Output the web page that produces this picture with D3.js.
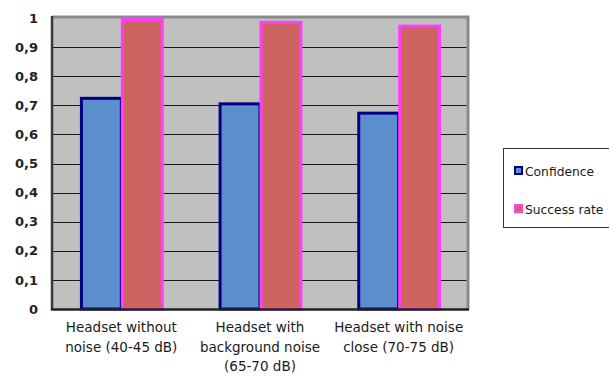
<!DOCTYPE html>
<html><head><meta charset="utf-8">
<script src="https://cdn.jsdelivr.net/npm/d3@7"></script>
<style>body{margin:0;background:#fff;}svg{display:block;font-family:"DejaVu Sans",Verdana,sans-serif;}</style>
</head><body>
<svg id="c" width="609" height="376"></svg>
<script>
const categories = [["Headset without","noise (40-45 dB)"],["Headset with","background noise","(65-70 dB)"],["Headset with noise","close (70-75 dB)"]];
const series = ["Confidence","Success rate"];
const confidence = [0.724, 0.705, 0.673];
const successRate = [0.995, 0.985, 0.972];
const yTicks = [0,0.1,0.2,0.3,0.4,0.5,0.6,0.7,0.8,0.9,1];
const yTickLabels = ["0","0,1","0,2","0,3","0,4","0,5","0,6","0,7","0,8","0,9","1"];

const fills = {"Confidence":"#5b8fcd","Success rate":"#cd6462"};
const strokes = {"Confidence":"#000080","Success rate":"#ff3cff"};

const svg = d3.select("#c");
const L=52, R=468, T=18, B=309;
const catIdx = categories.map((d,i)=>i);
const x0 = d3.scaleBand().domain(catIdx).range([L,R]).paddingInner(0.41).paddingOuter(0.205);
const x1 = d3.scaleBand().domain(series).range([0,x0.bandwidth()]);
const y = d3.scaleLinear().domain([0,1]).range([B,T]);

// plot area
svg.append("rect").attr("x",L).attr("y",T-1).attr("width",R-L).attr("height",B-T+1).attr("fill","#c0c0c0");
// gridlines
svg.append("g").selectAll("line").data(yTicks.filter(t=>t>0 && t<1)).join("line")
  .attr("x1",L).attr("x2",R).attr("y1",d=>Math.round(y(d))+0.5).attr("y2",d=>Math.round(y(d))+0.5)
  .attr("stroke","#1a1a1a").attr("stroke-width",1);
// top/right border
svg.append("path").attr("d",`M${L},${T-1}H${R}V${B}`).attr("fill","none").attr("stroke","#8a8a8a").attr("stroke-width",3);

// bars
const rows = catIdx.map(i=>({i, vals:[{s:"Confidence",v:confidence[i]},{s:"Success rate",v:successRate[i]}]}));
const g = svg.append("g");
series.forEach(s=>{
  g.selectAll("rect."+s.replace(" ","")).data(rows).join("rect")
   .attr("x",d=>x0(d.i)+x1(s)+1)
   .attr("width",x1.bandwidth()-1)
   .attr("y",d=>y(d.vals.find(e=>e.s===s).v))
   .attr("height",d=>B-y(d.vals.find(e=>e.s===s).v))
   .attr("fill",fills[s]).attr("stroke",strokes[s]).attr("stroke-width",3);
});

// axes lines
svg.append("line").attr("x1",L).attr("x2",L).attr("y1",T-2).attr("y2",B+1).attr("stroke","#3a3a3a").attr("stroke-width",2.5);
svg.append("line").attr("x1",L-1).attr("x2",R+1).attr("y1",B+0.5).attr("y2",B+0.5).attr("stroke","#222").attr("stroke-width",2.5);

// y tick labels
const yAxis = d3.axisLeft(y).tickValues(yTicks).tickFormat((d,i)=>yTickLabels[i]).tickSize(0).tickPadding(14);
const ya = svg.append("g").attr("transform",`translate(${L},0)`).call(yAxis);
ya.select(".domain").remove();
ya.selectAll("text").attr("font-size",13).attr("font-weight","bold").attr("fill","#222").attr("font-family","'DejaVu Sans',sans-serif");

// category labels
const xl = svg.append("g");
catIdx.forEach(i=>{
  const t = xl.append("text").attr("text-anchor","middle").attr("font-size",13.5).attr("fill","#1a1a1a")
    .attr("x",x0(i)+x0.bandwidth()/2).attr("y",332);
  categories[i].forEach((line,j)=>t.append("tspan").attr("x",x0(i)+x0.bandwidth()/2).attr("dy",j?19.5:0).text(line));
});

// legend
const lg = svg.append("g");
lg.append("rect").attr("x",503.5).attr("y",148.5).attr("width",130).attr("height",79).attr("fill","#fff").attr("stroke","#333");
series.forEach((s,i)=>{
  const yy = 167 + i*38;
  lg.append("rect").attr("x",515).attr("y",yy).attr("width",7).attr("height",7).attr("fill",fills[s]).attr("stroke",strokes[s]).attr("stroke-width",2);
  lg.append("text").attr("x",525).attr("y",yy+9).attr("font-size",12.3).attr("fill","#1a1a1a").text(s);
});
</script>
</body></html>
